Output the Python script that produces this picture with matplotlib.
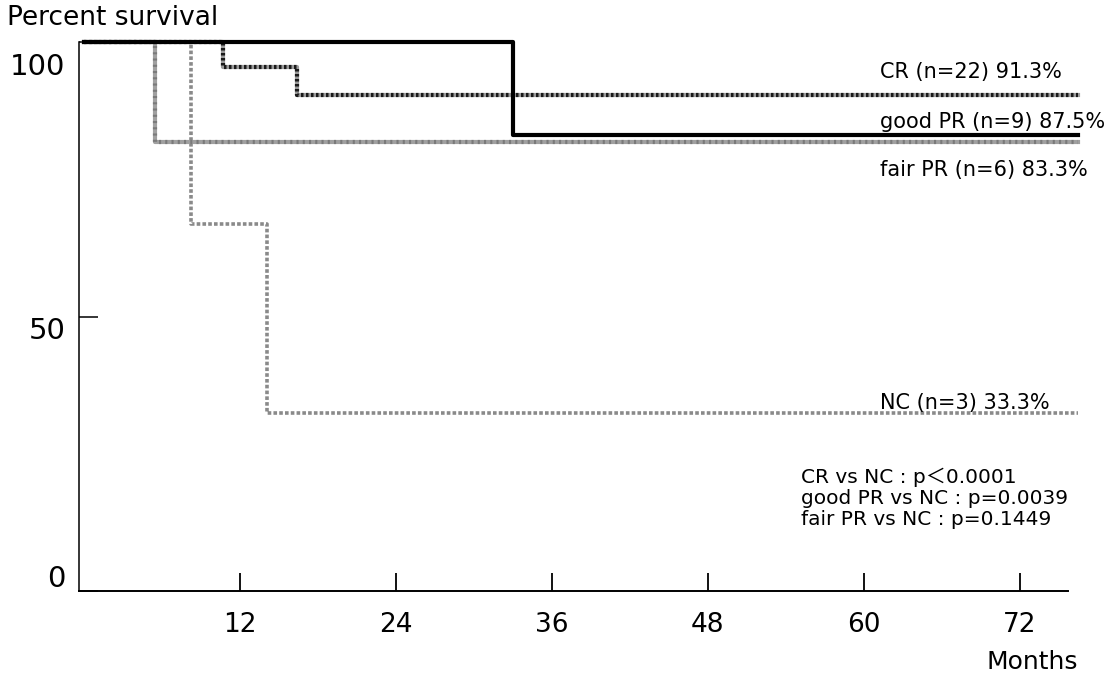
import matplotlib.pyplot as plt
import matplotlib.transforms as mtransforms

plt.rcParams['font.family'] = ['DejaVu Sans', 'Noto Sans CJK JP']

# ----------------------------
# Datos (Kaplan-Meier)
# ----------------------------
cr_months = [0, 10.7, 16.4, 76.5]
cr_surv = [100, 95.4, 90.3, 90.3]

good_months = [0, 33.0, 76.5]
good_surv = [100, 83.1, 83.1]

fair_months = [0, 5.5, 76.5]
fair_surv = [100, 81.8, 81.8]

nc_months = [0, 8.2, 14.1, 76.5]
nc_surv = [100, 66.9, 32.4, 32.4]

curve_labels = ['CR (n=22) 91.3%', 'good PR (n=9) 87.5%',
                'fair PR (n=6) 83.3%', 'NC (n=3) 33.3%']
label_y = [94.5, 85.4, 76.7, 34.2]

p_lines = ['CR vs NC : p＜0.0001',
           'good PR vs NC : p=0.0039',
           'fair PR vs NC : p=0.1449']

x_ticks = [12, 24, 36, 48, 60, 72]
y_ticks = [0, 50, 100]

# ----------------------------
# Figura
# ----------------------------
fig = plt.figure(figsize=(11.15, 6.79), dpi=100)
ax = fig.add_axes([0.0709, 0.1296, 0.8959, 0.8084])

# Curvas escalonadas
ax.step(nc_months, nc_surv, where='post', color='#8a8a8a', lw=2.6,
        linestyle=(0, (1, 0.6)), clip_on=False, zorder=2)
ax.step(fair_months, fair_surv, where='post', color='#a0a0a0', lw=3.0,
        clip_on=False, zorder=2)
ax.step(fair_months, fair_surv, where='post', color='#7a7a7a', lw=3.0,
        linestyle=(0, (0.5, 1.0)), clip_on=False, zorder=2)
ax.step(cr_months, cr_surv, where='post', color='#9a9a9a', lw=3.0,
        clip_on=False, zorder=3)
ax.step(cr_months, cr_surv, where='post', color='#1a1a1a', lw=3.0,
        linestyle=(0, (0.6, 0.6)), clip_on=False, zorder=3)
ax.step(good_months, good_surv, where='post', color='black', lw=3.0,
        clip_on=False, zorder=5)

# Etiquetas de las curvas
for txt, yv in zip(curve_labels, label_y):
    ax.text(61.3, yv, txt, ha='left', va='center', fontsize=15)

ax.text(55.2, 16.9, '\n'.join(p_lines), ha='left', va='center',
        fontsize=14.5, linespacing=1.12)

# Ejes
ax.set_xlim(-0.38, 76.5)
ax.set_ylim(0, 100)
for side in ['top', 'right']:
    ax.spines[side].set_visible(False)
ax.spines['bottom'].set_bounds(-0.38, 75.7)
ax.spines['bottom'].set_linewidth(1.4)
ax.spines['left'].set_linewidth(1.1)

ax.set_xticks(x_ticks)
ax.set_xticklabels([str(t) for t in x_ticks], fontsize=19)
ax.tick_params(axis='x', direction='in', length=13, width=1.3, pad=15)

ax.set_yticks(y_ticks)
ax.set_yticklabels([str(t) for t in y_ticks], fontsize=21)
ax.tick_params(axis='y', direction='in', length=14, width=1.1, pad=10)

# Desplazar etiquetas del eje y como en el original
offsets = {0: 11, 50: -8, 100: -16}
for tick_val, lab in zip(y_ticks, ax.get_yticklabels()):
    off = mtransforms.ScaledTranslation(0, offsets[tick_val] / 72, fig.dpi_scale_trans)
    lab.set_transform(lab.get_transform() + off)

fig.text(7 / 1115, 1 - 18 / 679, 'Percent survival', ha='left', va='center', fontsize=19)
fig.text(1032 / 1115, 1 - 662 / 679, 'Months', ha='center', va='center', fontsize=18)

plt.savefig('out.png', dpi=100)
plt.close()
